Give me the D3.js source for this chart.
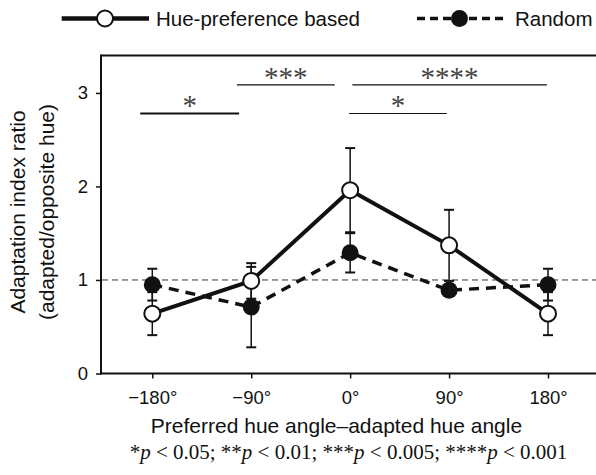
<!DOCTYPE html>
<html>
<head>
    <meta charset="utf-8">
    <title>adaptation-index</title>
    <style>
        body { margin: 0; background: #fff; }
        svg { display: block; }
    </style>
</head>
<body>
<main></main>

<script src="https://cdn.jsdelivr.net/npm/d3@7/dist/d3.min.js"></script>
<script>
    // data
    var angles = [-180, -90, 0, 90, 180];
    var angleLabels = ["\u2212180\u00b0", "\u221290\u00b0", "0\u00b0", "90\u00b0", "180\u00b0"];
    var yTicks = [0, 1, 2, 3];

    var hueMean = [0.64, 0.99, 1.96, 1.37, 0.64];
    var hueErr = [0.23, 0.19, 0.45, 0.38, 0.23];
    var randMean = [0.95, 0.71, 1.29, 0.89, 0.95];
    var randErr = [0.17, 0.43, 0.21, 0.06, 0.17];

    // significance brackets (angle span, height in y units)
    var sigFrom = [-191, -103, -1, 2];
    var sigTo = [-101, -14, 88, 179];
    var sigLevel = [2.78, 3.085, 2.78, 3.085];
    var sigLabel = ["*", "***", "*", "****"];

    var width = 596;
    var height = 475;
    var sans = "'Liberation Sans', Arial, Helvetica, sans-serif";
    var serif = "'Liberation Serif', 'Times New Roman', serif";

    var svg = d3.select("main")
        .append("svg")
        .attr("width", width)
        .attr("height", height);

    var frameLeft = 101;
    var frameTop = 55.5;
    var frameBottom = 373.5;

    var x = d3.scaleLinear().domain([-180, 180]).range([152.3, 548]);
    var y = d3.scaleLinear().domain([0, 3.4]).range([frameBottom, frameTop]);

    // frame: top line, no right edge
    svg.append("line")
        .attr("x1", frameLeft).attr("x2", width + 5)
        .attr("y1", frameTop).attr("y2", frameTop)
        .attr("stroke", "#111").attr("stroke-width", 2);

    // y axis
    var yAxis = svg.append("g")
        .attr("transform", "translate(" + frameLeft + ",0)")
        .call(d3.axisLeft(y).tickValues(yTicks).tickSize(5).tickPadding(8).tickFormat(d3.format("d")));
    yAxis.select(".domain").remove();
    yAxis.selectAll(".tick line").attr("stroke", "#111").attr("stroke-width", 1.5);
    yAxis.selectAll(".tick text")
        .attr("font-family", sans).attr("font-size", "18.5px").attr("fill", "#111");
    svg.append("line")
        .attr("x1", frameLeft).attr("x2", frameLeft)
        .attr("y1", frameTop - 1).attr("y2", frameBottom + 1)
        .attr("stroke", "#111").attr("stroke-width", 2);

    // x axis
    var xAxis = svg.append("g")
        .attr("transform", "translate(0," + frameBottom + ")")
        .call(d3.axisBottom(x).tickValues(angles).tickSize(5).tickPadding(12)
            .tickFormat(function (d, i) { return angleLabels[i]; }));
    xAxis.select(".domain").remove();
    xAxis.selectAll(".tick line").attr("stroke", "#111").attr("stroke-width", 1.5);
    xAxis.selectAll(".tick text")
        .attr("font-family", sans).attr("font-size", "18.5px").attr("fill", "#111");
    svg.append("line")
        .attr("x1", frameLeft - 1).attr("x2", width + 5)
        .attr("y1", frameBottom).attr("y2", frameBottom)
        .attr("stroke", "#111").attr("stroke-width", 2);

    // reference line at 1
    svg.append("line")
        .attr("x1", frameLeft + 1).attr("x2", width)
        .attr("y1", y(1)).attr("y2", y(1))
        .attr("stroke", "#333").attr("stroke-width", 1)
        .attr("stroke-dasharray", "6,4");

    // error bars
    function errorBars(means, errs) {
        var g = svg.append("g").attr("stroke", "#111");
        angles.forEach(function (a, i) {
            var lo = means[i] - errs[i];
            var hi = means[i] + errs[i];
            g.append("line")
                .attr("x1", x(a)).attr("x2", x(a))
                .attr("y1", y(lo)).attr("y2", y(hi))
                .attr("stroke-width", 1.5);
            [lo, hi].forEach(function (v) {
                g.append("line")
                    .attr("x1", x(a) - 5).attr("x2", x(a) + 5)
                    .attr("y1", y(v)).attr("y2", y(v))
                    .attr("stroke-width", 2);
            });
        });
    }
    errorBars(randMean, randErr);
    errorBars(hueMean, hueErr);

    var line = d3.line()
        .x(function (d, i) { return x(angles[i]); })
        .y(function (d) { return y(d); });

    svg.append("path")
        .datum(randMean)
        .attr("d", line)
        .attr("fill", "none")
        .attr("stroke", "#111")
        .attr("stroke-width", 3.5)
        .attr("stroke-dasharray", "10,7");

    svg.append("path")
        .datum(hueMean)
        .attr("d", line)
        .attr("fill", "none")
        .attr("stroke", "#111")
        .attr("stroke-width", 4);

    svg.selectAll(".rand-dot")
        .data(randMean)
        .enter()
        .append("circle")
        .attr("class", "rand-dot")
        .attr("cx", function (d, i) { return x(angles[i]); })
        .attr("cy", function (d) { return y(d); })
        .attr("r", 8.5)
        .attr("fill", "#111");

    svg.selectAll(".hue-dot")
        .data(hueMean)
        .enter()
        .append("circle")
        .attr("class", "hue-dot")
        .attr("cx", function (d, i) { return x(angles[i]); })
        .attr("cy", function (d) { return y(d); })
        .attr("r", 8)
        .attr("fill", "#fff")
        .attr("stroke", "#111")
        .attr("stroke-width", 2);

    // significance brackets
    sigLabel.forEach(function (lab, i) {
        var x1 = x(sigFrom[i]);
        var x2 = x(sigTo[i]);
        var ly = y(sigLevel[i]);
        svg.append("line")
            .attr("x1", x1).attr("x2", x2)
            .attr("y1", ly).attr("y2", ly)
            .attr("stroke", "#111")
            .attr("stroke-width", i === 0 ? 2.2 : 1.2);
        svg.append("text")
            .attr("x", (x1 + x2) / 2)
            .attr("y", ly + 2)
            .attr("text-anchor", "middle")
            .attr("font-family", serif)
            .attr("font-size", "29px")
            .attr("fill", "#444")
            .text(lab);
    });

    // axis titles
    svg.append("text")
        .attr("x", 336.5).attr("y", 433)
        .attr("text-anchor", "middle")
        .attr("font-family", sans).attr("font-size", "21px").attr("fill", "#111")
        .text("Preferred hue angle\u2013adapted hue angle");

    var ylab = svg.append("text")
        .attr("transform", "translate(0,212) rotate(-90)")
        .attr("text-anchor", "middle")
        .attr("font-family", sans).attr("font-size", "21px").attr("fill", "#111");
    ylab.append("tspan").attr("x", 0).attr("y", 25).text("Adaptation index ratio");
    ylab.append("tspan").attr("x", 0).attr("y", 54).text("(adapted/opposite hue)");

    // footnote
    var foot = svg.append("text")
        .attr("x", 348.5).attr("y", 459)
        .attr("text-anchor", "middle")
        .attr("font-family", serif).attr("font-size", "21px").attr("fill", "#111");
    var parts = [["*", "p", " < 0.05; "], ["**", "p", " < 0.01; "], ["***", "p", " < 0.005; "], ["****", "p", " < 0.001"]];
    parts.forEach(function (p) {
        foot.append("tspan").text(p[0]);
        foot.append("tspan").attr("font-style", "italic").text(p[1]);
        foot.append("tspan").text(p[2]);
    });

    // legend
    var leg = svg.append("g");
    leg.append("line")
        .attr("x1", 61.7).attr("x2", 149).attr("y1", 18.5).attr("y2", 18.5)
        .attr("stroke", "#111").attr("stroke-width", 4.5);
    leg.append("circle")
        .attr("cx", 105).attr("cy", 18.5).attr("r", 8)
        .attr("fill", "#fff").attr("stroke", "#111").attr("stroke-width", 2);
    leg.append("text")
        .attr("x", 156).attr("y", 26)
        .attr("font-family", sans).attr("font-size", "20.5px").attr("fill", "#111")
        .text("Hue-preference based");

    leg.append("line")
        .attr("x1", 417).attr("x2", 503).attr("y1", 18.5).attr("y2", 18.5)
        .attr("stroke", "#111").attr("stroke-width", 3.5)
        .attr("stroke-dasharray", "8,5");
    leg.append("circle")
        .attr("cx", 459.5).attr("cy", 18.5).attr("r", 8.5)
        .attr("fill", "#111");
    leg.append("text")
        .attr("x", 515).attr("y", 26)
        .attr("font-family", sans).attr("font-size", "20.5px").attr("fill", "#111")
        .text("Random");
</script>
</body>
</html>
